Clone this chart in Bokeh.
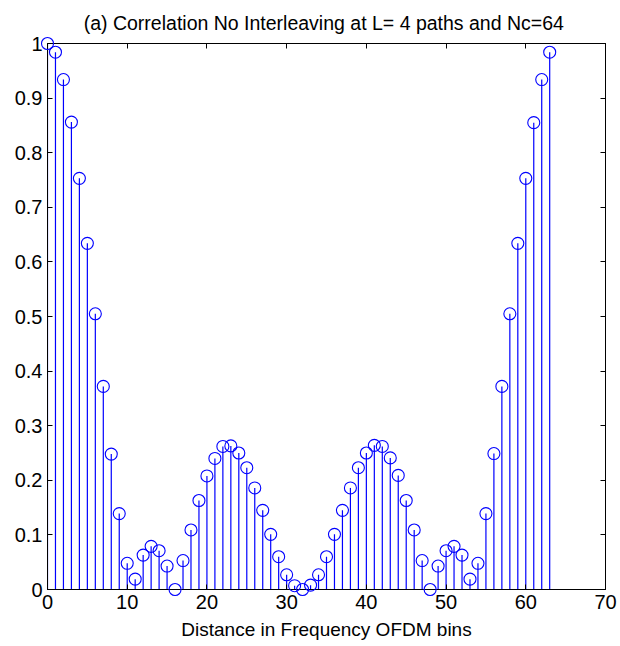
from bokeh.plotting import figure
from bokeh.models import Range1d, FixedTicker, LinearAxis, CustomJSTickFormatter
from bokeh.embed import file_html
from bokeh.resources import INLINE

title_text = "(a)  Correlation No Interleaving at L= 4 paths and Nc=64"
x_label = "Distance in Frequency OFDM bins"

bins = list(range(64))
correlation = [
    1.000, 0.984, 0.934, 0.856, 0.753, 0.634, 0.505, 0.372,
    0.248, 0.139, 0.048, 0.019, 0.063, 0.079, 0.071, 0.043,
    0.000, 0.053, 0.109, 0.163, 0.208, 0.240, 0.262, 0.263,
    0.250, 0.223, 0.186, 0.145, 0.101, 0.060, 0.027, 0.007,
    0.000, 0.008, 0.027, 0.060, 0.101, 0.145, 0.186, 0.223,
    0.250, 0.264, 0.262, 0.241, 0.209, 0.163, 0.109, 0.053,
    0.000, 0.043, 0.071, 0.079, 0.063, 0.019, 0.048, 0.139,
    0.249, 0.372, 0.505, 0.634, 0.753, 0.855, 0.934, 0.984,
]
x_ticks = [0, 10, 20, 30, 40, 50, 60, 70]
y_ticks = [0, 0.1, 0.2, 0.3, 0.4, 0.5, 0.6, 0.7, 0.8, 0.9, 1.0]

FONT = "Liberation Sans"

p = figure(width=620, height=646, output_backend="svg", toolbar_location=None,
           x_range=Range1d(0, 70), y_range=Range1d(0, 1),
           min_border_left=47, min_border_right=15, min_border_top=43,
           min_border_bottom=57, background_fill_color="white",
           border_fill_color="white", outline_line_color="black")

p.title.text = title_text
p.title.align = "center"
p.title.text_font = FONT
p.title.text_font_size = "19.5px"
p.title.text_font_style = "normal"
p.title.text_color = "black"
p.title.standoff = 19

p.xgrid.visible = False
p.ygrid.visible = False

fmt = CustomJSTickFormatter(code="return String(Math.round(tick*10)/10);")

def style_axis(ax, ticks, labels=True):
    ax.ticker = FixedTicker(ticks=ticks)
    ax.major_tick_in = 5
    ax.major_tick_out = 0
    ax.minor_tick_line_color = None
    ax.axis_line_color = "black"
    ax.major_tick_line_color = "black"
    ax.major_label_text_font = FONT
    ax.major_label_text_font_size = "20px"
    ax.major_label_text_color = "black"
    ax.major_label_standoff = 5
    if not labels:
        ax.major_label_text_color = None

style_axis(p.xaxis[0], x_ticks)
style_axis(p.yaxis[0], y_ticks)
p.yaxis[0].formatter = fmt
p.xaxis[0].axis_label = x_label
p.xaxis[0].axis_label_text_font = FONT
p.xaxis[0].axis_label_text_font_size = "19px"
p.xaxis[0].axis_label_text_font_style = "normal"
p.xaxis[0].axis_label_text_color = "black"
p.xaxis[0].axis_label_standoff = 7

top = LinearAxis()
style_axis(top, x_ticks, labels=False)
top.major_label_text_font_size = "0px"
right = LinearAxis()
style_axis(right, y_ticks, labels=False)
right.major_label_text_font_size = "0px"
p.add_layout(top, "above")
p.add_layout(right, "right")

p.segment(x0=bins, y0=[0] * len(bins), x1=bins, y1=correlation,
          line_color="#0000ff", line_width=1.2)
p.scatter(bins, correlation, marker="circle", size=12, fill_color=None,
          line_color="#0000ff", line_width=1.1, level="overlay")

open("out.html", "w").write(file_html(p, INLINE))
